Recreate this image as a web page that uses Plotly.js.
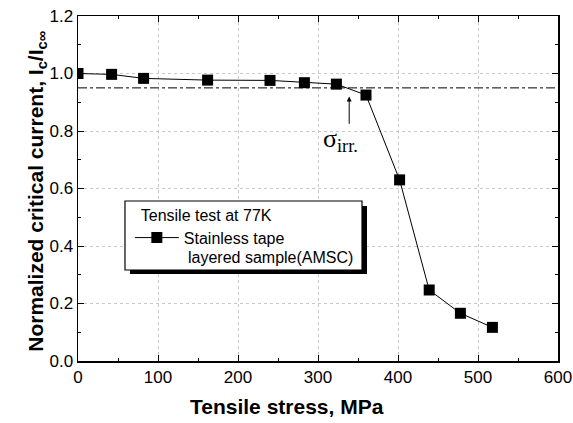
<!DOCTYPE html>
<html><head><meta charset="utf-8">
<script src="https://cdn.plot.ly/plotly-3.0.1.min.js"></script>
<style>html,body{margin:0;padding:0;background:#fff}#c{width:573px;height:423px}</style>
</head><body><div id="c"></div>
<script>
const stress = [0, 42, 82, 162, 240, 283, 323, 360, 402, 439, 478, 518];
const icNorm = [1.0, 0.997, 0.983, 0.977, 0.976, 0.968, 0.963, 0.925, 0.630, 0.247, 0.166, 0.117];
const irrX = [0, 600];
const irrY = [0.95, 0.95];
const xTicks = [0, 100, 200, 300, 400, 500, 600];
const yTicks = [0.0, 0.2, 0.4, 0.6, 0.8, 1.0, 1.2];
const seriesName = 'Stainless tape';
const seriesName2 = 'layered sample(AMSC)';
const legendTitle = '\u00a0\u00a0Tensile test at 77K';
const xTitle = 'Tensile stress, MPa';
const yTitle = 'Normalized critical current, I<sub>c</sub>/I<sub>c∞</sub>';

const FONT = 'Liberation Sans, Arial, sans-serif';

const traces = [
  {x: irrX, y: irrY, mode: 'lines', showlegend: false, hoverinfo: 'skip',
   line: {color: '#000', width: 1, dash: 'dashdot'}},
  {x: stress, y: icNorm, mode: 'lines+markers', name: seriesName,
   line: {color: '#000', width: 1},
   marker: {symbol: 'square', size: 11, color: '#000'}}
];

const axCommon = {
  showline: true, linecolor: '#000', linewidth: 1.5, mirror: 'allticks',
  ticks: 'inside', ticklen: 6, tickwidth: 1, tickcolor: '#000',
  showgrid: true, gridcolor: '#c8c8c8', griddash: 'dot', gridwidth: 1,
  zeroline: false,
  tickfont: {family: FONT, size: 17, color: '#000'},
  minor: {ticks: 'inside', ticklen: 3, tickcolor: '#000', showgrid: false}
};

const layout = {
  width: 573, height: 423,
  margin: {l: 78, r: 15, t: 16, b: 62},
  paper_bgcolor: '#fff', plot_bgcolor: '#fff',
  xaxis: Object.assign({}, axCommon, {
    range: [0, 600], tickvals: xTicks, ticktext: xTicks.map(String),
    minor: Object.assign({}, axCommon.minor, {dtick: 50})
  }),
  yaxis: Object.assign({}, axCommon, {
    range: [0, 1.2], tickvals: yTicks, ticktext: yTicks.map(v => v.toFixed(1)),
    minor: Object.assign({}, axCommon.minor, {dtick: 0.1})
  }),
  showlegend: true,
  legend: {
    x: 0.108, y: 0.467, xanchor: 'left', yanchor: 'top',
    bgcolor: 'rgba(0,0,0,0)', borderwidth: 0,
    title: {text: legendTitle, font: {family: FONT, size: 16, color: '#000'}},
    font: {family: FONT, size: 16, color: '#000'},
    itemwidth: 44, tracegroupgap: 0
  },
  shapes: [
    {type: 'rect', xref: 'paper', yref: 'paper', x0: 0.1083, x1: 0.6021, y0: 0.2522, y1: 0.4493,
     line: {width: 0}, fillcolor: '#000', layer: 'above'},
    {type: 'rect', xref: 'paper', yref: 'paper', x0: 0.0979, x1: 0.5917, y0: 0.2638, y1: 0.4638,
     line: {width: 1.2, color: '#000'}, fillcolor: '#fff', layer: 'above'}
  ],
  annotations: [
    {x: 339, y: 0.92, ax: 339, ay: 0.82, axref: 'x', ayref: 'y', xref: 'x', yref: 'y',
     showarrow: true, arrowhead: 2, arrowsize: 1, arrowwidth: 1, arrowcolor: '#000', text: ''},
    {x: 328, y: 0.77, xref: 'x', yref: 'y', showarrow: false,
     text: 'σ<sub>irr.</sub>', font: {family: 'Liberation Serif, Times New Roman, serif', size: 26, color: '#000'}},
    {x: 0.225, y: 0.2986, xref: 'paper', yref: 'paper', xanchor: 'left', yanchor: 'middle', showarrow: false,
     text: seriesName2, font: {family: FONT, size: 16, color: '#000'}},
    {x: 0.435, y: -0.171, xref: 'paper', yref: 'paper', showarrow: false,
     text: xTitle, font: {family: FONT, size: 21, color: '#000', weight: 'bold'}},
    {x: -0.117, y: 0.493, xref: 'paper', yref: 'paper', showarrow: false, textangle: -90,
     text: yTitle, font: {family: FONT, size: 21, color: '#000', weight: 'bold'}}
  ]
};

Plotly.newPlot('c', traces, layout, {displayModeBar: false, staticPlot: true});
</script></body></html>
